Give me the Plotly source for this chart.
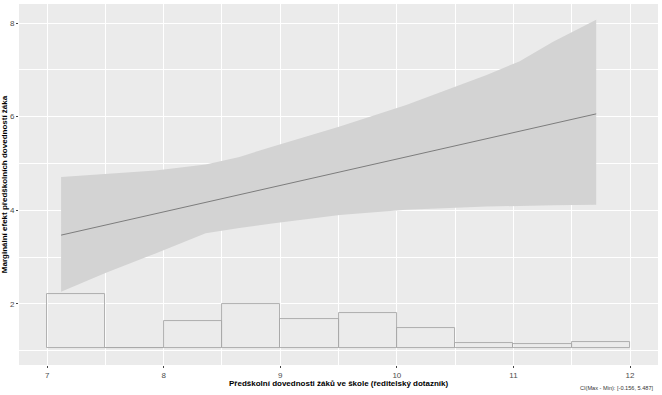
import plotly.graph_objects as go

# Histogram of the moderator (bin edges and bar top heights, in y-axis units)
hist_left = [7.0, 7.5, 8.0, 8.5, 9.0, 9.5, 10.0, 10.5, 11.0, 11.5]
hist_top = [2.22, 1.06, 1.63, 2.00, 1.69, 1.80, 1.49, 1.16, 1.14, 1.19]
hist_base = 1.06
bin_width = 0.5

# Confidence band
band_x = [7.12, 7.5, 7.93, 8.36, 8.65, 8.93, 9.51, 10.08, 10.77, 11.05, 11.34, 11.71]
band_upper = [4.71, 4.78, 4.85, 4.98, 5.14, 5.36, 5.79, 6.25, 6.89, 7.18, 7.60, 8.07]
band_lower = [2.26, 2.66, 3.08, 3.51, 3.62, 3.72, 3.90, 4.01, 4.08, 4.10, 4.11, 4.12]

# Marginal effect line
line_x = [7.12, 11.71]
line_y = [3.47, 6.06]

x_ticks = [7, 8, 9, 10, 11, 12]
y_ticks = [2, 4, 6, 8]

x_title = "Předškolní dovednosti žáků ve škole (ředitelský dotazník)"
y_title = "Marginální efekt předškolních dovedností žáka"
caption = "CI(Max - Min): [-0.156, 5.487]"

fig = go.Figure()

# band
fig.add_trace(go.Scatter(x=band_x, y=band_lower, mode="lines",
                         line=dict(width=0, color="rgba(0,0,0,0)"),
                         showlegend=False, hoverinfo="skip"))
fig.add_trace(go.Scatter(x=band_x, y=band_upper, mode="lines", fill="tonexty",
                         fillcolor="#D3D3D3", line=dict(width=0, color="rgba(0,0,0,0)"),
                         showlegend=False, hoverinfo="skip"))

# histogram
fig.add_trace(go.Bar(
    x=[l + bin_width / 2 for l in hist_left],
    y=[t - hist_base for t in hist_top],
    base=hist_base,
    width=bin_width,
    marker=dict(color="rgba(0,0,0,0)", line=dict(color="#A8A8A8", width=0.9)),
    showlegend=False,
))

# line
fig.add_trace(go.Scatter(x=line_x, y=line_y, mode="lines",
                         line=dict(color="#666666", width=0.8),
                         showlegend=False))

axis_common = dict(
    showgrid=True, gridcolor="white", gridwidth=1,
    zeroline=False, showline=False, automargin=False,
    ticks="outside", ticklen=2, tickcolor="#444444", tickwidth=1,
    tickfont=dict(family="Liberation Sans, Arial", size=8, color="#4D4D4D"),
)

fig.update_xaxes(range=[6.759, 12.24], tickmode="array", tickvals=x_ticks,
                 ticktext=[str(v) for v in x_ticks],
                 minor=dict(showgrid=True, gridcolor="white", gridwidth=0.5, dtick=0.5, tick0=0.5),
                 **axis_common)
fig.update_yaxes(range=[0.697, 8.406], tickmode="array", tickvals=y_ticks,
                 ticktext=[str(v) for v in y_ticks],
                 minor=dict(showgrid=True, gridcolor="white", gridwidth=0.5, dtick=2, tick0=1),
                 title=dict(text="<b>" + y_title + "</b>", standoff=3,
                            font=dict(family="Liberation Sans, Arial", size=8, color="black")),
                 **axis_common)

fig.update_layout(
    width=662, height=395,
    margin=dict(l=19, r=4, t=4, b=30, autoexpand=False),
    plot_bgcolor="#EBEBEB", paper_bgcolor="white",
    bargap=0,
    font=dict(family="Liberation Sans, Arial"),
    annotations=[
        dict(text="<b>" + x_title + "</b>", xref="paper", yref="paper",
             x=0.5, y=-0.05, xanchor="center", yanchor="middle", showarrow=False,
             font=dict(size=8, color="black")),
        dict(text=caption, xref="paper", yref="paper",
             x=0.997, y=-0.065, xanchor="right", yanchor="middle", showarrow=False,
             font=dict(size=5.6, color="#333333")),
    ],
)

fig.write_html(
    "out.html",
    config={"displayModeBar": False},
    post_script="document.body.style.margin='0';document.documentElement.style.overflow='hidden';",
)
